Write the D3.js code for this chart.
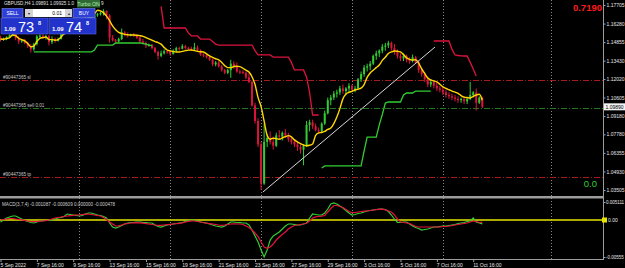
<!DOCTYPE html>
<html lang="en">
<head>
<meta charset="UTF-8" />
<title>GBPUSD,H4</title>
<script src="https://d3js.org/d3.v7.min.js"></script>
<style>
  body { margin: 0; background: #000; }
  svg { display: block; font-family: "Liberation Sans", Arial, sans-serif; }
  .axis text { fill: #e6e6e6; font-size: 5px; }
  .axis line { stroke: #a0a0a0; }
  .axis path { display: none; }
  .axis.macd text { font-size: 4.5px; }
</style>
</head>
<body>
<svg id="chart" width="625" height="268"></svg>
<script>
// ---- data (prices in 1e-4 units, MACD in 1e-4 units) ----
const firstOpen = 11520;
const closes = [11505,11510,11525,11540,11570,11515,11490,11500,11480,11455,
  11430,11470,11530,11535,11520,11530,11485,11510,11495,11510,
  11545,11575,11620,11595,11605,11590,11630,11645,11660,11690,
  11675,11690,11700,11710,11725,11690,11520,11500,11490,11510,
  11560,11545,11540,11545,11535,11520,11490,11480,11460,11465,
  11440,11410,11380,11400,11415,11410,11395,11420,11440,11435,
  11455,11440,11435,11430,11445,11420,11390,11385,11370,11350,
  11315,11330,11300,11270,11250,11270,11320,11300,11260,11255,
  11250,11215,11180,11000,10880,10700,10400,10720,10750,10720,
  10690,10770,10760,10790,10770,10740,10720,10700,10680,10660,
  10690,10850,10870,10840,10810,10800,10860,10940,11040,11060,
  11090,11100,11130,11110,11130,11150,11120,11130,11200,11240,
  11290,11300,11320,11380,11400,11420,11450,11460,11480,11440,
  11410,11380,11360,11380,11350,11340,11370,11330,11270,11240,
  11200,11160,11180,11150,11130,11120,11100,11080,11070,11060,
  11050,11040,11050,11030,11050,11080,11100,11020,11060,10989];
const highs = [11535,11520,11530,11545,11590,11580,11530,11510,11510,11490,
  11470,11480,11540,11545,11545,11540,11540,11530,11520,11520,
  11560,11590,11650,11640,11620,11610,11650,11660,11680,11710,
  11700,11700,11710,11720,11738,11730,11700,11540,11510,11520,
  11590,11570,11560,11550,11555,11545,11530,11510,11490,11475,
  11470,11450,11420,11420,11430,11425,11420,11430,11450,11450,
  11470,11465,11450,11450,11480,11460,11430,11400,11390,11380,
  11360,11340,11340,11310,11280,11280,11350,11340,11330,11275,
  11270,11260,11250,11190,11020,10900,10720,10860,10780,10800,
  10760,10790,10810,10800,10820,10790,10760,10740,10720,10700,
  10700,10880,10890,10890,10860,10830,10870,10960,11060,11080,
  11110,11120,11150,11160,11140,11170,11160,11150,11210,11260,
  11310,11320,11340,11390,11420,11430,11470,11480,11495,11490,
  11470,11430,11400,11400,11390,11370,11390,11380,11340,11290,
  11250,11220,11200,11190,11180,11150,11140,11120,11100,11090,
  11080,11070,11060,11070,11060,11180,11110,11130,11070,11065];
const lows = [11490,11495,11500,11515,11530,11500,11470,11480,11470,11440,
  11405,11420,11460,11515,11510,11505,11460,11470,11480,11490,
  11505,11540,11570,11580,11580,11580,11585,11620,11630,11650,
  11660,11670,11680,11690,11690,11660,11480,11490,11470,11480,
  11500,11530,11520,11530,11525,11510,11480,11470,11440,11450,
  11430,11400,11351,11370,11390,11395,11380,11390,11410,11420,
  11430,11430,11425,11420,11420,11410,11380,11370,11360,11340,
  11300,11300,11290,11260,11240,11240,11212,11280,11250,11240,
  11240,11200,11170,10990,10860,10680,10350,10390,10680,10700,
  10660,10680,10740,10730,10750,10720,10700,10680,10650,10630,
  10540,10680,10800,10820,10800,10780,10790,10850,10930,11000,
  11040,11060,11080,11090,11080,11100,11110,11100,11120,11180,
  11220,11260,11270,11310,11350,11370,11400,11420,11440,11420,
  11390,11360,11340,11340,11330,11320,11330,11320,11250,11220,
  11180,11140,11140,11130,11110,11100,11080,11060,11050,11040,
  11030,11020,11020,11010,11010,11040,11060,10960,11010,10980];

// fast moving average (yellow)
const maValues = [11510,11508,11512,11520,11540,11535,11515,11505,11495,11475,
  11450,11455,11490,11515,11520,11525,11505,11505,11500,11505,
  11525,11555,11595,11600,11602,11596,11615,11632,11648,11672,
  11675,11700,11730,11725,11710,11685,11650,11610,11580,11560,
  11552,11545,11542,11540,11540,11538,11535,11530,11520,11510,
  11500,11490,11482,11470,11445,11425,11418,11413,11410,11410,
  11415,11420,11424,11425,11420,11415,11412,11410,11395,11380,
  11368,11358,11350,11330,11305,11290,11290,11298,11300,11297,
  11285,11270,11256,11220,11160,11060,10990,10880,10770,10740,
  10748,10745,10740,10750,10760,10768,10758,10735,10720,10706,
  10696,10690,10694,10704,10770,10789,10792,10800,10815,10826,
  10860,10910,10975,11050,11087,11100,11108,11118,11125,11133,
  11160,11215,11249,11270,11290,11310,11345,11370,11398,11410,
  11417,11415,11410,11390,11365,11353,11348,11350,11325,11280,
  11245,11210,11195,11188,11180,11162,11142,11130,11120,11110,
  11102,11092,11075,11063,11060,11057,11070,11080,11085,11040];

// trailing stop lines: first bar + values
const supportA = { start: 11, values: [11410,11410,11410,11410,11410,11410,11410,11410,11410,11410,
  11410,11410,11410,11410,11410,11410,11410,11410,11410,11410,
  11425,11463,11463,11463,11463,11463,11463,11479,11479,11479,
  11479,11479,11479,11479,11479,11479,11475,11470,11463,11458] };
const resistA = { start: 53, values: [11760,11594,11594,11594,11594,11594,11594,11594,11594,11556,11533,
  11533,11533,11509,11509,11509,11509,11490,11470,11463,11463,
  11463,11463,11463,11463,11463,11463,11463,11463,11463,11463,
  11420,11387,11387,11387,11387,11387,11371,11371,11371,11371,
  11371,11371,11330,11272,11272,11272,11272,11218,11100,10926,
  10926,10926] };
const supportB = { start: 106, values: [10519,10535,10535,10535,10535,10535,10535,10535,10535,10535,
  10535,10535,10535,10535,10650,10757,10757,10757,10757,10850,
  10930,11018,11026,11026,11026,11026,11026,11080,11095,11095,
  11095,11110,11110,11110,11110,11110,11110] };
const resistB = { start: 143, values: [11494,11494,11494,11494,11494,11494,11430,11387,11383,11380,
  11379,11379,11330,11280,11226] };

const macdMain = [-5.7,0,5.7,8.5,11.4,11.4,7.1,2.8,-1.4,-4.3,
  -7.1,-8.5,-5.7,-2.8,-2,-1.4,-0.9,0,2.8,5.7,
  7.1,9.9,17,15.6,14.2,12.8,11.4,12.8,17,19.9,
  19.9,17,14.2,12.8,9.9,5.7,-8.5,-19.9,-22.7,-19.9,
  -15.6,-11.4,-8.5,-7.1,-6.5,-5.7,-5.7,-6.5,-7.1,-8.5,
  -8.5,-14.2,-18.5,-19.9,-17,-14.2,-12.8,-11.4,-9.9,-8.5,
  -7.1,-4.3,-1.4,0,-0.9,-2.8,-5.7,-7.1,-8.5,-11.4,
  -14.2,-17,-18.5,-19.9,-17,-11.4,-5.7,-5.7,-7.1,-7.7,
  -8.5,-8.5,-14.2,-28.4,-45.4,-62.5,-85.2,-105,-85,-56.8,
  -45.4,-39.8,-34,-25.6,-17,-11.4,-11.4,-12.8,-14.2,-14.2,
  -11.4,-8.5,5.7,17,15.6,14.2,14.2,19.9,31.2,45.4,
  48.3,45.4,39.8,34,27,19.9,14.2,15.6,18.5,19.9,
  22.7,25.6,27,28.4,29.8,31.2,31.2,29.8,24.1,14.2,
  2.8,-7.1,-7.1,-5.7,-5.7,-11.4,-17,-21.3,-24.1,-28.4,
  -27,-25.6,-22.7,-19.9,-19.9,-18.5,-17,-17,-15.6,-14.2,
  -12.8,-9.9,-8.5,-7.1,-4.3,-2.8,5.7,-5.7,-8,-10.9];
const macdSignal = [0,1.4,2.8,4.3,4.3,2.8,2,0.6,-0.9,-2.8,
  -4.3,-4.8,-4.3,-3.4,-2.8,-2,0,2.8,5.7,7.1,
  8.5,10.5,11.4,12.5,13.3,14.2,14.8,15.6,16.5,17,
  15.6,14.2,12.8,11.4,7.1,1.4,-5.7,-11.4,-17,-16.5,
  -14.2,-11.4,-9.9,-8.5,-8,-7.7,-8,-9.1,-10.2,-11.4,
  -12.8,-14.2,-15.1,-15.1,-14.2,-13.3,-12.2,-11.4,-10.2,-9.4,
  -8,-5.7,-3.7,-2.3,-2.8,-4.3,-5.7,-7.7,-9.1,-10.2,
  -11.4,-12.8,-14.2,-15.1,-14.2,-12.8,-11.4,-10.8,-11.4,-11.4,
  -12.8,-17,-21.3,-28.4,-36.9,-47.4,-62.5,-76.7,-80.4,-76.7,
  -68.2,-56.8,-48.3,-41.2,-34.1,-25.6,-19.9,-15.6,-14.2,-12.8,
  -11.4,-9.4,-2.8,5.7,9.1,9.9,10.8,12.8,22.7,32.7,
  41.2,41.2,38.3,35.5,29.8,24.1,20.7,21.3,22.7,24.1,
  25,25.6,27,28.4,29.3,30.4,30.7,29,25.6,22.7,
  14.2,2.8,-5.7,-7.1,-8.5,-9.9,-14.2,-18.5,-19.9,-19.9,
  -19.9,-19.9,-19.9,-19.9,-19.9,-19.3,-18.5,-17.9,-17,-15.9,
  -14.2,-12.8,-11.4,-9.9,-8.5,-5.7,-2.8,-4.3,-7.1,-6.1];

const priceTicks = [1.17705,1.16280,1.14855,1.13430,1.12020,1.10605,1.09180,1.07780,1.06355,1.04930,1.03505];
const timeTickBars = [0,12,24,36,48,60,72,84,96,108,120,132,144,156];
const timeTickLabels = ["5 Sep 2022","7 Sep 16:00","9 Sep 16:00","13 Sep 16:00","15 Sep 16:00","19 Sep 16:00",
  "21 Sep 16:00","23 Sep 16:00","27 Sep 16:00","29 Sep 16:00","3 Oct 16:00","5 Oct 16:00","7 Oct 16:00","11 Oct 16:00"];
const separatorBars = [26,56,86,116,146,181.7];
const orderLines = [
  { label: "#90447365 sl", price: 1.11948, color: "#a31b1b" },
  { label: "#90447365 sell 0.01", price: 1.09780, color: "#1f7a1f" },
  { label: "#90447365 tp", price: 1.04503, color: "#a31b1b" }
];
const trendLine = [{ bar: 86.6, price: 1.0335 }, { bar: 143.4, price: 1.1448 }];
const macdTicks = [0.005111, -0.0105];
const macdTickLabels = ["0.005111", "-0.00555"];

// ---- layout ----
const svg = d3.select("#chart");
const W = 625, H = 268;
const axisX = 603;
const mainBottom = 196;
const subTop = 199, subBottom = 259;

svg.append("rect").attr("width", W).attr("height", H).attr("fill", "#000");

const x = d3.scaleLinear().domain([0, 159]).range([0.5, 482.3]);
const y = d3.scaleLinear().domain([1.03505, 1.17705]).range([190, 5]);
const ym = d3.scaleLinear().domain([-0.0105, 0.005111]).range([257, 202]);
const p = v => v / 10000;

const defs = svg.append("defs");
defs.append("clipPath").attr("id", "clipMain")
  .append("rect").attr("x", 0).attr("y", 0).attr("width", axisX).attr("height", mainBottom);
defs.append("clipPath").attr("id", "clipSub")
  .append("rect").attr("x", 0).attr("y", subTop).attr("width", axisX).attr("height", subBottom - subTop);

// period separators
svg.append("g").selectAll("line")
  .data(separatorBars)
  .enter().append("line")
  .attr("x1", d => Math.round(x(d)) + 0.5).attr("x2", d => Math.round(x(d)) + 0.5)
  .attr("y1", 0).attr("y2", subBottom)
  .attr("stroke", "#8a8a8a").attr("stroke-width", 1).attr("stroke-dasharray", "1,2");

const main = svg.append("g").attr("clip-path", "url(#clipMain)");

// order lines
orderLines.forEach(o => {
  const yy = Math.round(y(o.price)) + 0.5;
  main.append("line").attr("x1", 0).attr("x2", axisX).attr("y1", yy).attr("y2", yy)
    .attr("stroke", o.color).attr("stroke-dasharray", "6,2,1,2");
  main.append("text").attr("x", 3).attr("y", yy - 1.5)
    .attr("fill", "#c8c8c8").attr("font-size", 4.6).text(o.label);
});

// candles
const bars = closes.map((c, i) => ({
  i: i,
  o: i === 0 ? firstOpen : closes[i - 1],
  h: highs[i], l: lows[i], c: c
}));
const candle = main.append("g").selectAll("g").data(bars).enter().append("g");
const col = d => d.c >= d.o ? "#32cd32" : "#dc143c";
candle.append("line")
  .attr("x1", d => x(d.i)).attr("x2", d => x(d.i))
  .attr("y1", d => y(p(d.h))).attr("y2", d => y(p(d.l)))
  .attr("stroke", col).attr("stroke-width", 1);
candle.append("rect")
  .attr("x", d => x(d.i) - 1).attr("width", 2)
  .attr("y", d => y(p(Math.max(d.o, d.c))))
  .attr("height", d => Math.max(1, y(p(Math.min(d.o, d.c))) - y(p(Math.max(d.o, d.c)))))
  .attr("fill", col);

// trailing stop lines
const stLine = seg => d3.line()
  .x((v, k) => x(seg.start + k))
  .y(v => y(p(v)))(seg.values);
[[supportA, "#32cd32"], [resistA, "#dc143c"], [supportB, "#32cd32"], [resistB, "#dc143c"]]
  .forEach(([seg, c]) => {
    main.append("path").attr("d", stLine(seg)).attr("fill", "none")
      .attr("stroke", c).attr("stroke-width", 1.3);
  });

// moving average
main.append("path")
  .attr("d", d3.line().x((v, i) => x(i)).y(v => y(p(v))).curve(d3.curveMonotoneX)(maValues))
  .attr("fill", "none").attr("stroke", "#ffd700").attr("stroke-width", 1.4);

// trend line
main.append("line")
  .attr("x1", x(trendLine[0].bar)).attr("y1", y(trendLine[0].price))
  .attr("x2", x(trendLine[1].bar)).attr("y2", y(trendLine[1].price))
  .attr("stroke", "#d8d8d8").attr("stroke-width", 1);

// ---- MACD pane ----
const sub = svg.append("g").attr("clip-path", "url(#clipSub)");
sub.append("line").attr("x1", 0).attr("x2", axisX).attr("y1", ym(0)).attr("y2", ym(0))
  .attr("stroke", "#e6e600").attr("stroke-width", 1.5);
const macdLine = d3.line().x((v, i) => x(i)).y(v => ym(v / 10000));
sub.append("path").attr("d", macdLine(macdMain)).attr("fill", "none")
  .attr("stroke", "#32cd32").attr("stroke-width", 1.2);
sub.append("path").attr("d", macdLine(macdSignal)).attr("fill", "none")
  .attr("stroke", "#e8103c").attr("stroke-width", 1.2);
svg.append("text").attr("x", 2).attr("y", 205.5).attr("fill", "#d0d0d0").attr("font-size", 4.6)
  .text("MACD(3,7,4) -0.001087 -0.000609 0.000000 -0.000478");

// pane borders
svg.append("rect").attr("x", 0).attr("y", mainBottom).attr("width", axisX + 1).attr("height", 2.5).attr("fill", "#9c9c9c");
svg.append("line").attr("x1", 0).attr("x2", axisX).attr("y1", subBottom + 0.5).attr("y2", subBottom + 0.5).attr("stroke", "#9c9c9c");
svg.append("line").attr("x1", axisX + 0.5).attr("x2", axisX + 0.5).attr("y1", 0).attr("y2", subBottom + 1).attr("stroke", "#9c9c9c");

// ---- axes ----
svg.append("g").attr("class", "axis").attr("transform", `translate(${axisX + 0.5},0)`)
  .call(d3.axisRight(y).tickValues(priceTicks).tickSize(2).tickPadding(1).tickFormat(d3.format(".5f")));

svg.append("g").attr("class", "axis macd").attr("transform", `translate(${axisX + 0.5},0)`)
  .call(d3.axisRight(ym).tickValues(macdTicks).tickSize(2).tickPadding(0.5)
    .tickFormat((d, k) => macdTickLabels[k]));

const xAxis = svg.append("g").attr("class", "axis").attr("transform", `translate(0,${subBottom + 1})`)
  .call(d3.axisBottom(x).tickValues(timeTickBars).tickSize(2).tickPadding(1)
    .tickFormat((d, k) => timeTickLabels[k]));
xAxis.selectAll("text").attr("text-anchor", "start").attr("dx", "-0.5");

// current price and MACD level markers on the scale
const bid = p(closes[closes.length - 1]);
svg.append("rect").attr("x", axisX + 1).attr("y", y(bid) - 3.5).attr("width", 21).attr("height", 7).attr("fill", "#f2f2f2");
svg.append("text").attr("x", axisX + 2.5).attr("y", y(bid) + 1.8).attr("fill", "#000").attr("font-size", 5)
  .text(d3.format(".5f")(bid));
svg.append("rect").attr("x", axisX - 1).attr("y", ym(0) - 2.5).attr("width", 5).attr("height", 5).attr("fill", "#e6e600");
svg.append("text").attr("x", axisX + 5).attr("y", ym(0) + 1.8).attr("fill", "#e6e6e6").attr("font-size", 5).text("0.00");

// info texts
svg.append("text").attr("x", axisX - 1).attr("y", 11).attr("text-anchor", "end")
  .attr("fill", "#ff1a1a").attr("font-size", 9.5).attr("font-weight", "bold").text("0.7190");
svg.append("text").attr("x", 597).attr("y", 187).attr("text-anchor", "end")
  .attr("fill", "#32cd32").attr("font-size", 9.5).text("0.0");

// ---- one-click trading panel ----
const panel = svg.append("g");
panel.append("text").attr("x", 4).attr("y", 5).attr("fill", "#e0e0e0").attr("font-size", 4.6)
  .text("GBPUSD,H4  1.09891  1.09925  1.0");
panel.append("rect").attr("x", 77).attr("y", 0).attr("width", 23).attr("height", 7.5).attr("fill", "#2f6a35");
panel.append("text").attr("x", 88.5).attr("y", 5.6).attr("text-anchor", "middle").attr("fill", "#b8f0b0")
  .attr("font-size", 5.2).text("Turbo ON");
panel.append("text").attr("x", 101).attr("y", 5).attr("fill", "#e0e0e0").attr("font-size", 4.6).text("9");

const btn = (bx, bw, label) => {
  panel.append("rect").attr("x", bx).attr("y", 8.5).attr("width", bw).attr("height", 9)
    .attr("fill", "#2d3fd8").attr("stroke", "#7a88ee").attr("stroke-width", 0.6);
  panel.append("text").attr("x", bx + bw / 2).attr("y", 14.8).attr("text-anchor", "middle")
    .attr("fill", "#fff").attr("font-size", 5).text(label);
};
btn(2, 21, "SELL");
btn(73, 22, "BUY");
panel.append("rect").attr("x", 25).attr("y", 9).attr("width", 8).attr("height", 8).attr("fill", "#d4d4d4");
panel.append("rect").attr("x", 33).attr("y", 9).attr("width", 32).attr("height", 8).attr("fill", "#fff");
panel.append("rect").attr("x", 65).attr("y", 9).attr("width", 7).attr("height", 8).attr("fill", "#d4d4d4");
panel.append("text").attr("x", 29).attr("y", 14.5).attr("text-anchor", "middle").attr("font-size", 4).attr("fill", "#222").text("\u25BE");
panel.append("text").attr("x", 68.5).attr("y", 14.5).attr("text-anchor", "middle").attr("font-size", 4).attr("fill", "#222").text("\u25B4");
panel.append("text").attr("x", 62).attr("y", 14.8).attr("text-anchor", "end").attr("font-size", 5).attr("fill", "#000").text("0.01");

const quote = (bx, big) => {
  panel.append("rect").attr("x", bx).attr("y", 18).attr("width", 47).attr("height", 16)
    .attr("fill", "#2233cc").attr("stroke", "#5566e6").attr("stroke-width", 0.6);
  panel.append("text").attr("x", bx + 3).attr("y", 30.5).attr("fill", "#fff").attr("font-size", 6).attr("font-weight", "bold").text("1.09");
  panel.append("text").attr("x", bx + 17).attr("y", 31.5).attr("fill", "#fff").attr("font-size", 14.5).text(big);
  panel.append("text").attr("x", bx + 37).attr("y", 24.5).attr("fill", "#fff").attr("font-size", 5.5).attr("font-weight", "bold").text("8");
};
quote(1, "73");
quote(49, "74");
</script>
</body>
</html>
